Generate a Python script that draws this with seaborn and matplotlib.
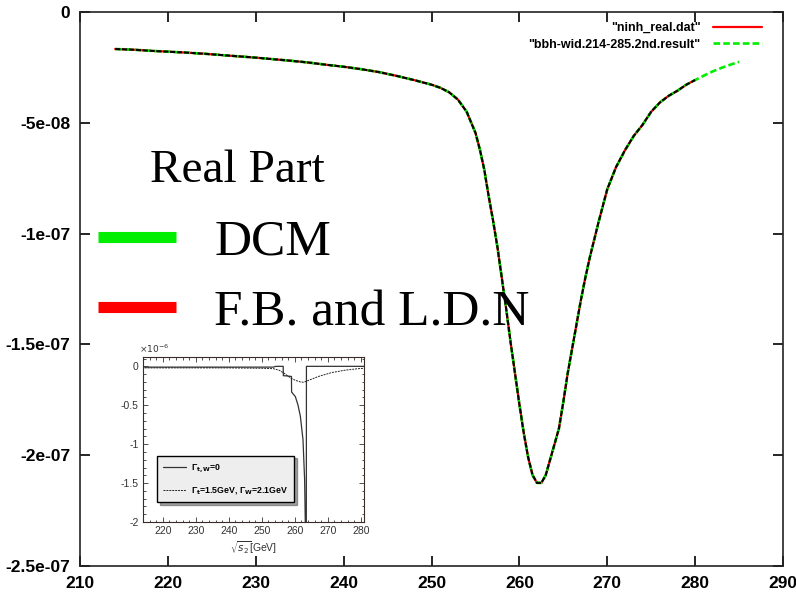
import numpy as np
import pandas as pd
import matplotlib
matplotlib.use("Agg")
import matplotlib.pyplot as plt
from matplotlib.lines import Line2D
from matplotlib.ticker import MultipleLocator
import seaborn as sns

# ---------------- data ----------------
dcm_x = [214, 216, 218, 220, 222, 224, 226, 228, 230, 232, 234, 236, 238, 240,
         242, 244, 246, 248, 250, 251, 252, 253, 254, 255, 255.5, 256, 256.5,
         257, 257.5, 258, 258.5, 259, 259.5, 260, 260.5, 261, 261.5, 262,
         262.5, 263, 263.5, 264, 264.5, 265, 265.5, 266, 266.5, 267, 267.5,
         268, 269, 270, 271, 272, 273, 274, 275, 276, 277, 278, 279, 280,
         281, 282, 283, 284, 285]
dcm_y_e8 = [-1.67, -1.70, -1.75, -1.79, -1.83, -1.88, -1.94, -2.00, -2.06, -2.13,
            -2.20, -2.28, -2.38, -2.47, -2.58, -2.71, -2.88, -3.07, -3.28, -3.42,
            -3.62, -3.95, -4.50, -5.45, -6.20, -7.10, -8.30, -9.40, -10.6, -12.0,
            -13.4, -14.9, -16.3, -17.7, -19.0, -20.1, -20.9, -21.25, -21.25, -20.9,
            -20.2, -19.5, -18.8, -17.6, -16.3, -15.2, -14.1, -13.0, -12.0, -11.1,
            -9.5, -8.0, -7.0, -6.25, -5.6, -5.1, -4.5, -4.08, -3.78, -3.55,
            -3.28, -3.07, -2.87, -2.68, -2.52, -2.38, -2.25]
fb_x = dcm_x[:62]          # ninh_real.dat stops at 280
fb_y_e8 = dcm_y_e8[:62]

x_ticks = [210, 220, 230, 240, 250, 260, 270, 280, 290]
y_ticks = [0, -5e-08, -1e-07, -1.5e-07, -2e-07, -2.5e-07]
y_tick_labels = ["0", "-5e-08", "-1e-07", "-1.5e-07", "-2e-07", "-2.5e-07"]

label_fb = '"ninh_real.dat"'
label_dcm = '"bbh-wid.214-285.2nd.result"'

# inset (units of 1e-6)
ins_solid_x = [214.5, 220, 230, 240, 250, 253.5, 254.3, 256.5, 256.55, 258, 259.0,
               259.05, 260.2, 261.0, 261.7, 262.5, 263.0, 263.2, 263.4, 263.5,
               263.55, 270, 281]
ins_solid_y = [-0.01, -0.01, -0.01, -0.01, -0.01, -0.01, 0.0, 0.0, -0.12, -0.125,
               -0.13, -0.33, -0.39, -0.5, -0.64, -0.94, -1.46, -2.0, -2.6, -2.6,
               0.0, 0.0, 0.0]
ins_dash_x = [214.5, 220, 230, 240, 250, 253.5, 255.3, 256.8, 258.8, 260.2, 261.7,
              262.7, 264.2, 267.2, 271.2, 275.2, 279.2, 281]
ins_dash_y = [-0.02, -0.02, -0.02, -0.02, -0.025, -0.03, -0.05, -0.09, -0.15, -0.18,
              -0.20, -0.205, -0.18, -0.13, -0.08, -0.05, -0.03, -0.025]
ins_x_ticks = [220, 230, 240, 250, 260, 270, 280]
ins_y_ticks = [0, -0.5, -1, -1.5, -2]
ins_y_tick_labels = ["0", "-0.5", "-1", "-1.5", "-2"]

# ---------------- figure ----------------
sns.set_theme(style="ticks")
plt.rcParams["font.family"] = ["Liberation Sans", "DejaVu Sans"]
plt.rcParams["text.color"] = "black"
plt.rcParams["axes.linewidth"] = 1.2

df_dcm = pd.DataFrame({"x": dcm_x, "y": np.array(dcm_y_e8) * 1e-8})
df_fb = pd.DataFrame({"x": fb_x, "y": np.array(fb_y_e8) * 1e-8})

fig = plt.figure(figsize=(7.96, 5.93), dpi=100)
fig.patch.set_facecolor("white")
ax = fig.add_axes([80 / 796, 1 - 566 / 593, 703 / 796, 554 / 593])

sns.lineplot(data=df_fb, x="x", y="y", ax=ax, color="#ff0000", lw=1.6,
             estimator=None, sort=False, label=label_fb)
sns.lineplot(data=df_dcm, x="x", y="y", ax=ax, color="#00ee00", lw=1.9,
             estimator=None, sort=False, label=label_dcm)
ax.lines[-1].set_linestyle((0, (2.5, 1.2)))
# dark ink overlay seen in the reference rendering
sns.lineplot(data=df_fb, x="x", y="y", ax=ax, color="black", lw=1.5,
             estimator=None, sort=False, legend=False)
ax.lines[-1].set_linestyle((0, (2.5, 0.8)))

ax.set_xlim(210, 290)
ax.set_ylim(-2.5e-07, 0)
ax.set_xticks(x_ticks)
ax.set_xticklabels([str(v) for v in x_ticks])
ax.set_yticks(y_ticks)
ax.set_yticklabels(y_tick_labels)
ax.set_xlabel("")
ax.set_ylabel("")
ax.tick_params(direction="in", length=7, width=1.2, top=True, right=True,
               labelsize=12.5, pad=7, colors="black")
for lab in ax.get_xticklabels() + ax.get_yticklabels():
    lab.set_fontweight("bold")
for sp in ax.spines.values():
    sp.set_color("#222222")
    sp.set_linewidth(1.2)

# gnuplot-style key, top right
h_fb = ax.lines[0]
h_dcm = ax.lines[1]
leg1 = ax.legend([h_fb, h_dcm], [label_fb, label_dcm], loc="upper right",
                 bbox_to_anchor=(1 - 10 / 703, 1 + 1 / 554), frameon=False,
                 markerfirst=False, prop={"size": 9, "weight": "bold"},
                 handlelength=3.9, handletextpad=1.0, labelspacing=0.35)
ax.add_artist(leg1)

# big annotation legend
ax.text(70 / 703, 1 - (182 - 12) / 554, "Real Part", transform=ax.transAxes,
        fontsize=34, family="Liberation Serif", va="baseline", ha="left",
        color="black")
big_handles = [Line2D([], [], color="#00ee00", lw=8, solid_capstyle="butt"),
               Line2D([], [], color="#ff0000", lw=8, solid_capstyle="butt")]
leg2 = ax.legend(big_handles, ["DCM", "F.B. and L.D.N"], loc="upper left",
                 bbox_to_anchor=(18 / 703, 1 - (219 - 12) / 554), frameon=False,
                 prop={"size": 37, "family": "Liberation Serif"},
                 handlelength=1.51, handletextpad=0.75, labelspacing=0.45,
                 borderpad=0, borderaxespad=0)
for t in leg2.get_texts():
    t.set_color("black")

# ---------------- inset ----------------
axi = fig.add_axes([143 / 796, 1 - 522 / 593, 221 / 796, 165 / 593])
axi.set_facecolor("white")
sns.lineplot(x=ins_solid_x, y=ins_solid_y, ax=axi, color="#333333", lw=0.9,
             estimator=None, sort=False, label=r"Γ$_{\mathbf{t,W}}$=0")
sns.lineplot(x=ins_dash_x, y=ins_dash_y, ax=axi, color="#222222", lw=0.7,
             estimator=None, sort=False,
             label=r"Γ$_{\mathbf{t}}$=1.5GeV, Γ$_{\mathbf{W}}$=2.1GeV")
axi.lines[-1].set_linestyle((0, (2, 1)))
axi.set_xlim(214, 281)
axi.set_ylim(-2, 0.12)
axi.set_xticks(ins_x_ticks)
axi.set_xticklabels([str(v) for v in ins_x_ticks])
axi.set_yticks(ins_y_ticks)
axi.set_yticklabels(ins_y_tick_labels)
axi.xaxis.set_minor_locator(MultipleLocator(2))
axi.yaxis.set_minor_locator(MultipleLocator(0.1))
axi.tick_params(which="both", direction="in", top=True, right=True,
                labelsize=7.5, pad=3, colors="#333333", width=0.6)
axi.tick_params(which="major", length=3.5)
axi.tick_params(which="minor", length=1.8)
for sp in axi.spines.values():
    sp.set_color("#3a2a2a")
    sp.set_linewidth(0.8)
axi.set_xlabel(r"$\sqrt{s_2}$[GeV]", fontsize=7.5, labelpad=2, color="#333333")
axi.set_ylabel("")
axi.text(-0.02, 1.01, r"$\times10^{-6}$", transform=axi.transAxes, fontsize=6.5,
         ha="left", va="bottom", color="#333333")
axi.legend(loc="lower left", bbox_to_anchor=(0.063, 0.12),
           prop={"size": 6.3, "weight": "bold"}, facecolor="#eeeeee",
           edgecolor="black", framealpha=1, fancybox=False, shadow=True,
           handlelength=2.6, handletextpad=0.6, labelspacing=1.2,
           borderpad=0.7, borderaxespad=0)

fig.savefig("out.png", dpi=100, facecolor="white")
